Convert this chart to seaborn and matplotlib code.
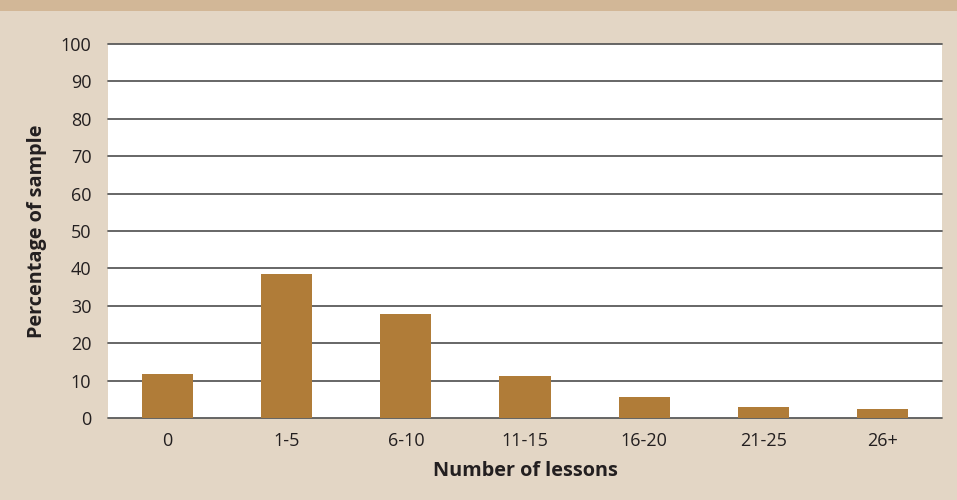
import matplotlib
matplotlib.use("Agg")
import matplotlib.pyplot as plt
import seaborn as sns
import pandas as pd
from matplotlib.patches import Rectangle

categories = ["0", "1-5", "6-10", "11-15", "16-20", "21-25", "26+"]
percentages = [11.8, 38.6, 27.8, 11.2, 5.7, 2.9, 2.4]
y_ticks = [0, 10, 20, 30, 40, 50, 60, 70, 80, 90, 100]

sns.set_theme(style="white")
plt.rcParams["font.family"] = ["Open Sans", "DejaVu Sans"]

df = pd.DataFrame({"lessons": categories, "pct": percentages})

bg = "#e3d6c5"
band = "#d2b797"
bar_color = "#b07c38"
grid_color = "#5a5a5a"
text_color = "#231f20"

fig = plt.figure(figsize=(9.57, 5.0), dpi=100, facecolor=bg)
fig.patches.append(Rectangle((0, 1 - 11 / 500), 1, 11 / 500, transform=fig.transFigure,
                             facecolor=band, edgecolor="none", zorder=0))

ax = fig.add_axes([108 / 957, 1 - 418 / 500, (942 - 108) / 957, (418 - 44) / 500])
ax.set_facecolor("white")

sns.barplot(data=df, x="lessons", y="pct", color=bar_color, saturation=1,
            width=0.43, linewidth=0, edgecolor="none", ax=ax, zorder=3)

ax.set_ylim(0, 100)
ax.set_yticks(y_ticks)
ax.set_xlim(-0.5, len(categories) - 0.5)
for v in y_ticks:
    ax.axhline(v, color=grid_color, linewidth=1.3, zorder=2, clip_on=False)

for s in ax.spines.values():
    s.set_visible(False)

ax.tick_params(axis="both", length=0, labelsize=13, colors=text_color)
ax.tick_params(axis="y", pad=12)
ax.tick_params(axis="x", pad=10)

ax.set_xlabel("Number of lessons", fontsize=14.3, fontweight="bold", color=text_color, labelpad=8)
ax.set_ylabel("Percentage of sample", fontsize=14.3, fontweight="bold", color=text_color, labelpad=10)

fig.savefig("out.png", dpi=100, facecolor=bg)
